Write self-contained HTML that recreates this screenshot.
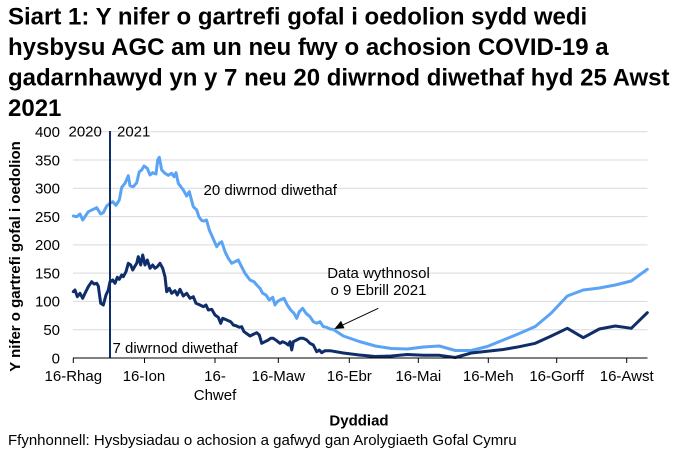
<!DOCTYPE html>
<html><head><meta charset="utf-8"><style>
html,body{margin:0;padding:0;background:#fff;}
svg{display:block;}
text{font-family:"Liberation Sans",Arial,sans-serif;fill:#000;}
</style></head><body>
<svg width="684" height="460" viewBox="0 0 684 460" xmlns="http://www.w3.org/2000/svg">
<rect width="684" height="460" fill="#fff"/>
<g font-size="24" font-weight="bold">
<text x="8" y="24.5">Siart 1: Y nifer o gartrefi gofal i oedolion sydd wedi</text>
<text x="8" y="55">hysbysu AGC am un neu fwy o achosion COVID-19 a</text>
<text x="8" y="85.5">gadarnhawyd yn y 7 neu 20 diwrnod diwethaf hyd 25 Awst</text>
<text x="8" y="116">2021</text>
</g>
<g stroke="#d9d9d9" stroke-width="1">
<line x1="73" y1="329.7" x2="647.5" y2="329.7"/>
<line x1="73" y1="301.4" x2="647.5" y2="301.4"/>
<line x1="73" y1="273.1" x2="647.5" y2="273.1"/>
<line x1="73" y1="244.9" x2="647.5" y2="244.9"/>
<line x1="73" y1="216.6" x2="647.5" y2="216.6"/>
<line x1="73" y1="188.3" x2="647.5" y2="188.3"/>
<line x1="73" y1="160" x2="647.5" y2="160"/>
<line x1="73" y1="131.7" x2="647.5" y2="131.7"/>
</g>
<g font-size="15" text-anchor="end">
<text x="60" y="363.3">0</text>
<text x="60" y="335">50</text>
<text x="60" y="306.7">100</text>
<text x="60" y="278.4">150</text>
<text x="60" y="250.2">200</text>
<text x="60" y="221.9">250</text>
<text x="60" y="193.6">300</text>
<text x="60" y="165.3">350</text>
<text x="60" y="137">400</text>
</g>
<text x="20" y="256.5" font-size="15" font-weight="bold" text-anchor="middle" transform="rotate(-90 20 256.5)">Y nifer o gartrefi gofal i oedolion</text>
<polyline fill="none" stroke="#5ba3f5" stroke-width="3" stroke-linejoin="round" stroke-linecap="round" points="73.3,216 76.7,216.7 80,214 82.7,220 88.3,211.7 93.3,209.3 96.7,207.7 100.7,214 103.3,212.7 106.7,206 110,203.3 112.7,201.7 116,205.3 119.3,200 121.7,187.3 125,183.3 128.3,175.7 130,185.7 133.3,186.7 136.7,182.7 139.3,171.7 141.7,170 144,166 147.3,168.3 150,175 152.7,172.7 156,174 157.7,160 159.3,157.3 161.7,170 165,173.3 168.3,175.3 171.7,173.3 174,176.7 176,172.7 178.3,183.3 183.3,190 186.7,196 189.3,191.7 193.3,206.7 196.7,210 199,217 201.7,220.5 204,221 206.5,220 209.3,230 213.3,239 216.7,246.7 219.3,243.3 221.7,241.7 225,251.7 228.3,258.3 231.7,263.3 235,261.7 238.3,260 240.7,265 245,273.3 250,280 254,281.7 256.7,285 260,288.3 262.7,293.3 266,295 269.3,300 272.7,297.3 275,305 277.3,301.7 280,300 284,298.3 287.3,305 290.7,310 294,313.3 296.7,318.3 299.3,311.7 302.7,308.3 306,313.3 310,316.7 313.3,321.7 316.7,323.3 320,321.7 323.3,326.7 326.7,327.3 330,329 333.5,329.5 343.3,336 359.3,341.5 375.3,346 391.3,348.5 407.3,349 423.3,347 439.3,346 455.3,350.5 471.3,350.5 487.3,346.5 503.3,340 519.3,333.5 535.3,326.5 551.3,313 567.3,296 583.3,290 599.3,288 615.3,285 631.3,281 647.3,269.3"/>
<polyline fill="none" stroke="#0f2d69" stroke-width="3" stroke-linejoin="round" stroke-linecap="round" points="73.3,291.7 75,290 77.3,296.7 80,293.3 82.7,298.3 85,293.3 88.3,286.7 91.7,281.7 94,284 96.7,283.3 98.3,286 100.7,303.3 103.3,305 106,295 108.3,290 110,281.7 112.7,280 115,283.3 117.3,277.3 119.3,279.3 121.7,275 123.3,276.7 126,271.7 128.3,263.3 130.7,265 132.7,270 135,266 136.7,263.3 138.3,256.7 140.7,265 142.7,255 145,265 147.3,260 150,268.3 152.7,265 155,268.3 157.3,266.7 160,263.3 162.7,268.3 165,276.7 166.7,291.7 169.3,288.3 171.7,293.3 175,290.7 177.3,295 180,289.3 183.3,296 186.7,293.3 190,298.3 193.3,296.7 196,303.3 200,305 203.3,306.7 206,305 208.3,310 211.7,309.3 215,315 218.3,317.3 220.7,323.3 222.7,318.3 226.7,320 230.7,321.7 233.3,325 236.7,326 239.3,327.3 241.7,326.7 244,331.7 247.3,334 250,336 254,334 256.7,332.7 259.3,335 261.7,343.3 265,341.7 268.3,340 270.7,338.3 273.3,338.3 276.7,340.7 280,343.3 282.7,341.7 286,343.3 288.3,345 290,341.7 291.7,350 293.3,341.7 296.7,340 300,338.3 303.3,338.3 306.7,340 310,343.3 313.3,345 316.7,351.7 319.3,350 321.7,352.7 325,350.7 330,350.7 343.3,353 359.3,355 375.3,356.5 391.3,356 407.3,354.5 423.3,355.3 439.3,355.3 455.3,357.5 471.3,353 487.3,351.3 503.3,349.5 519.3,346.7 535.3,343.3 551.3,336 567.3,328.3 583.3,337.7 599.3,329 615.3,326 631.3,328.3 647.3,312.7"/>
<line x1="110" y1="131" x2="110" y2="358" stroke="#0f2d69" stroke-width="2"/>
<line x1="73" y1="358" x2="647.5" y2="358" stroke="#000" stroke-width="1"/>
<g stroke="#000" stroke-width="1">
<line x1="73.3" y1="358" x2="73.3" y2="363"/>
<line x1="144.5" y1="358" x2="144.5" y2="363"/>
<line x1="215" y1="358" x2="215" y2="363"/>
<line x1="278.3" y1="358" x2="278.3" y2="363"/>
<line x1="349.3" y1="358" x2="349.3" y2="363"/>
<line x1="418.3" y1="358" x2="418.3" y2="363"/>
<line x1="488.3" y1="358" x2="488.3" y2="363"/>
<line x1="556.7" y1="358" x2="556.7" y2="363"/>
<line x1="626.7" y1="358" x2="626.7" y2="363"/>
</g>
<g font-size="15" text-anchor="middle">
<text x="73.3" y="381">16-Rhag</text>
<text x="144" y="381">16-Ion</text>
<text x="215" y="381">16-</text>
<text x="215" y="400">Chwef</text>
<text x="278.3" y="381">16-Maw</text>
<text x="349.3" y="381">16-Ebr</text>
<text x="418.3" y="381">16-Mai</text>
<text x="488.3" y="381">16-Meh</text>
<text x="556.7" y="381">16-Gorff</text>
<text x="626.7" y="381">16-Awst</text>
</g>
<g font-size="15">
<text x="68.5" y="136.5">2020</text>
<text x="117" y="136.5">2021</text>
<text x="203.5" y="195">20 diwrnod diwethaf</text>
<text x="112.5" y="353">7 diwrnod diwethaf</text>
<text x="378.5" y="278" text-anchor="middle">Data wythnosol</text>
<text x="378.5" y="295" text-anchor="middle">o 9 Ebrill 2021</text>
</g>
<line x1="378.3" y1="308.3" x2="342" y2="325.3" stroke="#000" stroke-width="1"/>
<polygon points="334.3,329 341,320.8 344.5,328.2" fill="#000"/>
<text x="359" y="425.5" font-size="15" font-weight="bold" text-anchor="middle">Dyddiad</text>
<text x="8" y="445" font-size="15">Ffynhonnell: Hysbysiadau o achosion a gafwyd gan Arolygiaeth Gofal Cymru</text>
</svg>
</body></html>
